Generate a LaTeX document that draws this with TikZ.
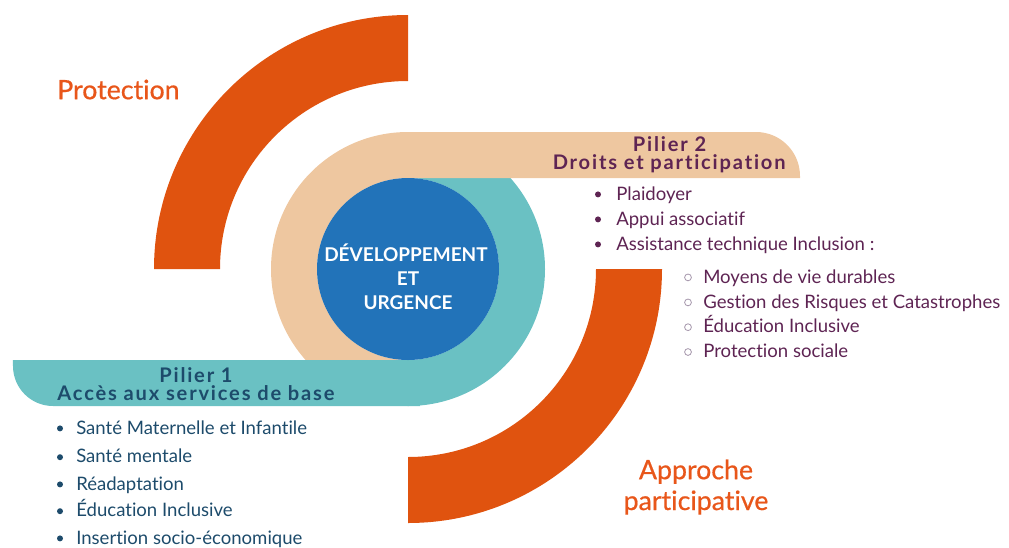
\documentclass[tikz,border=0pt]{standalone}
\usepackage{fontspec}
\setmainfont{Lato}[Ligatures={NoCommon,NoRare,NoDiscretionary}]
\newfontfamily\pilierfont{Lato}[LetterSpace=9,Ligatures={NoCommon,NoRare,NoDiscretionary}]
\newfontfamily\bigfont{Lato}[FakeBold=0.6,Ligatures={NoCommon,NoRare,NoDiscretionary}]
\usetikzlibrary{calc}

\definecolor{arcOrange}{HTML}{E0530F}
\definecolor{ringTeal}{HTML}{6AC1C3}
\definecolor{ringPeach}{HTML}{EEC7A0}
\definecolor{coreBlue}{HTML}{2273B9}
\definecolor{txtPurple}{HTML}{5E2453}
\definecolor{txtNavy}{HTML}{1D4B6B}
\definecolor{txtOrange}{HTML}{E8561A}
\definecolor{subCircle}{HTML}{A89AAE}

\tikzset{
  item/.style={anchor=base west,inner sep=0pt,font=\fontsize{13.2}{15}\selectfont},
  dot/.style={fill,circle,inner sep=0pt,minimum size=0.15cm},
  ring/.style={draw=subCircle,line width=0.6pt,circle,inner sep=0pt,minimum size=0.17cm},
  pilier/.style={anchor=base,inner sep=0pt,font=\pilierfont\bfseries\fontsize{14.3}{16}\selectfont},
  big/.style={inner sep=0pt,text=txtOrange,font=\bigfont\fontsize{19}{22}\selectfont},
  core/.style={anchor=base,inner sep=0pt,text=white,font=\bfseries\fontsize{13.5}{15}\selectfont}
}

\begin{document}
\begin{tikzpicture}

\useasboundingbox (0,0) rectangle (25.225,-13.675);

%%%% orange arcs
\fill[arcOrange] (10.2,-0.375) arc[start angle=90,end angle=180,radius=6.35]
   -- (5.5,-6.725) arc[start angle=180,end angle=90,radius=4.7] -- cycle;
\fill[arcOrange] (16.55,-6.725) arc[start angle=0,end angle=-90,radius=6.35]
   -- (10.2,-11.425) arc[start angle=-90,end angle=0,radius=4.7] -- cycle;

%%%% teal ring (right half)
\fill[ringTeal] (10.2,-3.3) arc[start angle=90,end angle=-90,radius=3.425]
   -- (10.2,-9.0) arc[start angle=-90,end angle=90,radius=2.275] -- cycle;

%%%% peach band + ring (left half)
\fill[ringPeach] (10.2,-3.3) -- (18.9,-3.3) arc[start angle=90,end angle=0,radius=1.1]
   -- (20,-4.45) -- (10.2,-4.45) arc[start angle=90,end angle=270,radius=2.275]
   -- (10.2,-10.15) arc[start angle=270,end angle=90,radius=3.425] -- cycle;

%%%% teal band
\fill[ringTeal] (10.5,-9.0) -- (10.5,-10.15) -- (1.325,-10.15)
   arc[start angle=270,end angle=180,radius=1.0] -- (0.325,-9.0) -- cycle;

%%%% core
\fill[coreBlue] (10.2,-6.725) circle (2.275);
\node[core] (core1) at (10.15,-6.525) {DÉVELOPPEMENT};
\node[core] (core2) at (10.2,-7.125) {ET};
\node[core] (core3) at (10.2,-7.725) {URGENCE};

%%%% big labels
\node[big,anchor=base west] (protection) at (1.425,-2.48) {Protection};
\node[big,anchor=base] (approche) at (17.4,-11.98) {Approche};
\node[big,anchor=base] (participative) at (17.4,-12.75) {participative};

%%%% pilier 2
\node[pilier,text=txtPurple] (p2a) at (16.74,-3.775) {Pilier 2};
\node[pilier,text=txtPurple] (p2b) at (16.73,-4.23) {Droits et participation};

\node[dot,fill=txtPurple] (d21) at (14.95,-4.86) {};
\node[item,text=txtPurple] (i21) at (15.4,-5.0) {Plaidoyer};
\node[dot,fill=txtPurple] (d22) at (14.95,-5.485) {};
\node[item,text=txtPurple] (i22) at (15.4,-5.625) {Appui associatif};
\node[dot,fill=txtPurple] (d23) at (14.95,-6.11) {};
\node[item,text=txtPurple] (i23) at (15.4,-6.25) {Assistance technique Inclusion :};

\node[ring] (s21) at (17.2,-6.935) {};
\node[item,text=txtPurple] (t21) at (17.575,-7.075) {Moyens de vie durables};
\node[ring] (s22) at (17.2,-7.56) {};
\node[item,text=txtPurple] (t22) at (17.575,-7.7) {Gestion des Risques et Catastrophes};
\node[ring] (s23) at (17.2,-8.18) {};
\node[item,text=txtPurple] (t23) at (17.575,-8.32) {Éducation Inclusive};
\node[ring] (s24) at (17.2,-8.8) {};
\node[item,text=txtPurple] (t24) at (17.575,-8.94) {Protection sociale};

%%%% pilier 1
\node[pilier,text=txtNavy] (p1a) at (4.9,-9.55) {Pilier 1};
\node[pilier,text=txtNavy] (p1b) at (4.9,-10.0) {Accès aux services de base};

\node[dot,fill=txtNavy] (d11) at (1.5,-10.71) {};
\node[item,text=txtNavy] (i11) at (1.9,-10.85) {Santé Maternelle et Infantile};
\node[dot,fill=txtNavy] (d12) at (1.5,-11.43) {};
\node[item,text=txtNavy] (i12) at (1.9,-11.57) {Santé mentale};
\node[dot,fill=txtNavy] (d13) at (1.5,-12.11) {};
\node[item,text=txtNavy] (i13) at (1.9,-12.25) {Réadaptation};
\node[dot,fill=txtNavy] (d14) at (1.5,-12.78) {};
\node[item,text=txtNavy] (i14) at (1.9,-12.92) {Éducation Inclusive};
\node[dot,fill=txtNavy] (d15) at (1.5,-13.46) {};
\node[item,text=txtNavy] (i15) at (1.9,-13.6) {Insertion socio-économique};

\end{tikzpicture}
\end{document}
